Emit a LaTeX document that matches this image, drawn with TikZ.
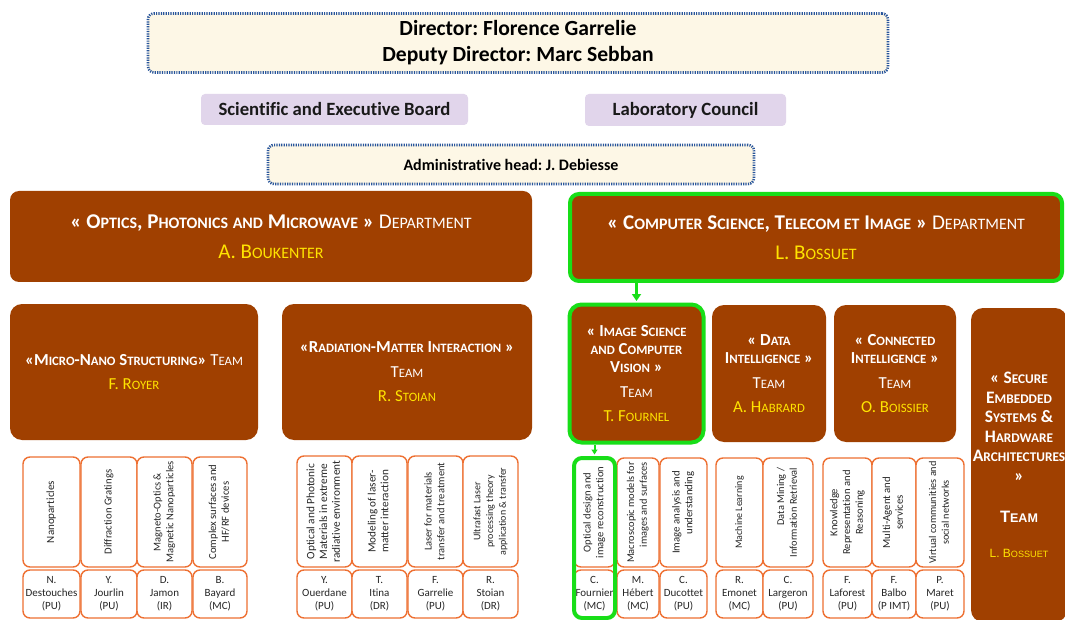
\documentclass[tikz,border=0pt]{standalone}
\usepackage{fontspec}
\setmainfont{Carlito}[Ligatures=NoCommon]
\newfontfamily\arialfont{Liberation Sans}
\usepackage{graphicx}
\usetikzlibrary{arrows.meta}
\frenchspacing
\definecolor{brownbox}{RGB}{160,64,0}
\definecolor{orangeedge}{RGB}{238,112,50}
\definecolor{grn}{RGB}{24,222,24}
\definecolor{yel}{RGB}{255,228,0}
\definecolor{cream}{RGB}{253,247,230}
\definecolor{lav}{RGB}{225,213,235}
\definecolor{dotblue}{RGB}{40,85,155}
\newcommand\smc[1]{\scalebox{0.76}{#1}}
% #1 name, #2 x left, #3 x right, #4 top y, #5 alignment, #6 font size, #7 topic, #8 person
\newcommand\researchcol[8]{%
  \node[topic, minimum width={(#3-#2)*1pt}, minimum height={(567-#4)*1pt}] (t#1) at ({(#2+#3)/2},{(#4+567)/2})
    {\rotatebox{90}{\fontsize{#6}{12.8}\selectfont\begin{tabular}{@{}#5@{}}#7\end{tabular}}};
  \node[person, minimum width={(#3-#2)*1pt}, minimum height=48pt] (p#1) at ({(#2+#3)/2},594) {#8};
}
\tikzset{
  dotbox/.style={draw=dotblue, line width=2.6pt, dash pattern=on 1.2pt off 1.2pt, fill=cream, rounded corners=6pt, inner sep=0pt, align=center, text=black},
  lavbox/.style={fill=lav, rounded corners=4pt, inner sep=0pt, text=black!90, font=\bfseries\fontsize{18.7}{22}\selectfont},
  dept/.style={fill=brownbox, rounded corners=9pt, text=white, align=center, inner sep=0pt, font=\fontsize{21}{30}\selectfont},
  team/.style={fill=brownbox, rounded corners=12pt, text=white, align=center, inner sep=0pt, font=\fontsize{16.8}{17.8}\selectfont},
  topic/.style={draw=orangeedge, line width=1.4pt, fill=white, rounded corners=7pt, inner sep=0pt, text=black!85},
  person/.style={topic, align=center, font=\fontsize{11}{13}\selectfont},
  hl/.style={draw=grn, line width=4pt},
  garrow/.style={draw=grn, line width=3pt, -{Triangle[length=7pt,width=9pt]}, shorten >=1.5pt}
}
\begin{document}
\begin{tikzpicture}[x=1pt,y=-1pt]
\useasboundingbox (0,0) rectangle (1065,620);
\clip (0,0) rectangle (1065,620);
\fill[white] (0,0) rectangle (1065,620);

% top
\node[dotbox, minimum width=740pt, minimum height=59pt, font=\bfseries\fontsize{21.6}{26}\selectfont] (dir) at (518,43)
  {Director: Florence Garrelie\\Deputy Director: Marc Sebban};
\node[lavbox, minimum width=267pt, minimum height=31pt] (seb) at (334.5,109.5) {Scientific and Executive Board};
\node[lavbox, minimum width=201pt, minimum height=32pt] (lc) at (685.5,110) {Laboratory Council};
\node[dotbox, minimum width=486pt, minimum height=39pt, font=\bfseries\fontsize{16}{18}\selectfont] (adm) at (511,164.5)
  {Administrative head: J. Debiesse};

% departments
\node[dept, minimum width=522pt, minimum height=91pt] (ldept) at (271,236.5)
  {\textbf{« O\smc{PTICS}, P\smc{HOTONICS} \smc{AND} M\smc{ICROWAVE} »} D\smc{EPARTMENT}\\\textcolor{yel}{A. B\smc{OUKENTER}}};
\node[dept, hl, minimum width=492pt, minimum height=87pt] (rdept) at (816,237.5)
  {\textbf{« C\smc{OMPUTER} S\smc{CIENCE}, T\smc{ELECOM ET} I\smc{MAGE} »} D\smc{EPARTMENT}\\\textcolor{yel}{L. B\smc{OSSUET}}};

% teams
\node[team, minimum width=248pt, minimum height=136pt, font=\fontsize{16.8}{23.5}\selectfont] (mns) at (134,372)
  {\textbf{«M\smc{ICRO}-N\smc{ANO} S\smc{TRUCTURING}»} T\smc{EAM}\\\textcolor{yel}{F. R\smc{OYER}}};
\node[team, minimum width=250pt, minimum height=136pt, font=\fontsize{16.8}{24.5}\selectfont] (rmi) at (407,372)
  {\textbf{«R\smc{ADIATION}-M\smc{ATTER} I\smc{NTERACTION} »}\\T\smc{EAM}\\\textcolor{yel}{R. S\smc{TOIAN}}};
\node[team, hl, minimum width=134pt, minimum height=138pt] (iscv) at (636.5,373.5)
  {\textbf{« I\smc{MAGE} S\smc{CIENCE}}\\\textbf{\smc{AND} C\smc{OMPUTER}}\\\textbf{V\smc{ISION} »}\\[7pt]T\smc{EAM}\\[6pt]\textcolor{yel}{T. F\smc{OURNEL}}};
\node[team, minimum width=114pt, minimum height=137pt] (dint) at (769,373.5)
  {\textbf{« D\smc{ATA}}\\\textbf{I\smc{NTELLIGENCE} »}\\[7pt]T\smc{EAM}\\[6pt]\textcolor{yel}{A. H\smc{ABRARD}}};
\node[team, minimum width=122pt, minimum height=137pt] (cint) at (895,373.5)
  {\textbf{« C\smc{ONNECTED}}\\\textbf{I\smc{NTELLIGENCE} »}\\[7pt]T\smc{EAM}\\[6pt]\textcolor{yel}{O. B\smc{OISSIER}}};
\node[team, minimum width=96pt, minimum height=314pt, font=\fontsize{17.5}{19.5}\selectfont] (sesha) at (1019,465)
  {\textbf{« S\smc{ECURE}}\\\textbf{E\smc{MBEDDED}}\\\textbf{S\smc{YSTEMS} \&}\\\textbf{H\smc{ARDWARE}}\\\textbf{A\smc{RCHITECTURES}}\\\textbf{»}\\[22pt]{\arialfont\bfseries\fontsize{16.5}{19.5}\selectfont T\smc{EAM}}\\[15pt]{\arialfont\fontsize{12}{19.5}\selectfont\color{yel}L. B\smc{OSSUET}}};

% research topics
\researchcol{a1}{23}{80}{457}{c}{11}{Nanoparticles}{N.\\Destouches\\(PU)}
\researchcol{a2}{81}{137}{457}{c}{10.7}{Diffraction Gratings}{Y.\\Jourlin\\(PU)}
\researchcol{a3}{137}{192}{457}{c}{10.5}{Magneto-Optics \&\\Magnetic Nanoparticles}{D.\\Jamon\\(IR)}
\researchcol{a4}{193}{247}{457}{c}{10.7}{Complex surfaces and\\HF/RF devices}{B.\\Bayard\\(MC)}
\researchcol{b1}{297}{352}{456}{c}{11.3}{Optical and Photonic\\Materials in extreme\\radiative environment}{Y.\\Ouerdane\\(PU)}
\researchcol{b2}{352}{407}{456}{c}{11.2}{Modeling of laser-\\matter interaction}{T.\\Itina\\(DR)}
\researchcol{b3}{408}{463}{456}{c}{10.5}{Laser for materials\\transfer and treatment}{F.\\Garrelie\\(PU)}
\researchcol{b4}{463}{518}{456}{c}{10}{Ultrafast Laser\\processing theory\\application \& transfer}{R.\\Stoian\\(DR)}
\researchcol{c1}{574}{615}{458}{c}{10.6}{Optical design and\\image reconstruction}{C.\\Fournier\\(MC)}
\researchcol{c2}{617}{659}{458}{r}{10.4}{Macroscopic models for\\images and surfaces}{M.\\Hébert\\(MC)}
\researchcol{c3}{660}{707}{458}{r}{10.8}{Image analysis and\\understanding}{C.\\Ducottet\\(PU)}
\researchcol{c4}{716}{763}{458}{c}{10}{Machine Learning}{R.\\Emonet\\(MC)}
\researchcol{c5}{763}{813}{458}{r}{10.4}{Data Mining /\\Information Retrieval}{C.\\Largeron\\(PU)}
\researchcol{d1}{823}{872}{458}{c}{10.6}{Knowledge\\Representation and\\Reasoning}{F.\\Laforest\\(PU)}
\researchcol{d2}{872}{916}{458}{c}{10.8}{Multi-Agent and\\services}{F.\\Balbo\\(P IMT)}
\researchcol{d3}{916}{964}{458}{c}{10.3}{Virtual communities and\\social networks}{P.\\Maret\\(PU)}

% highlighted topic
\node[hl, rounded corners=8pt, inner sep=0pt, minimum width=41pt, minimum height=160pt] (fbox) at (594.5,538) {};

% connectors
\draw[garrow] (rdept.south -| iscv.north) -- (iscv.north);
\draw[garrow, line width=2pt, -{Triangle[length=5pt,width=6pt]}] (iscv.south -| fbox.north) -- (fbox.north);
\end{tikzpicture}
\end{document}
